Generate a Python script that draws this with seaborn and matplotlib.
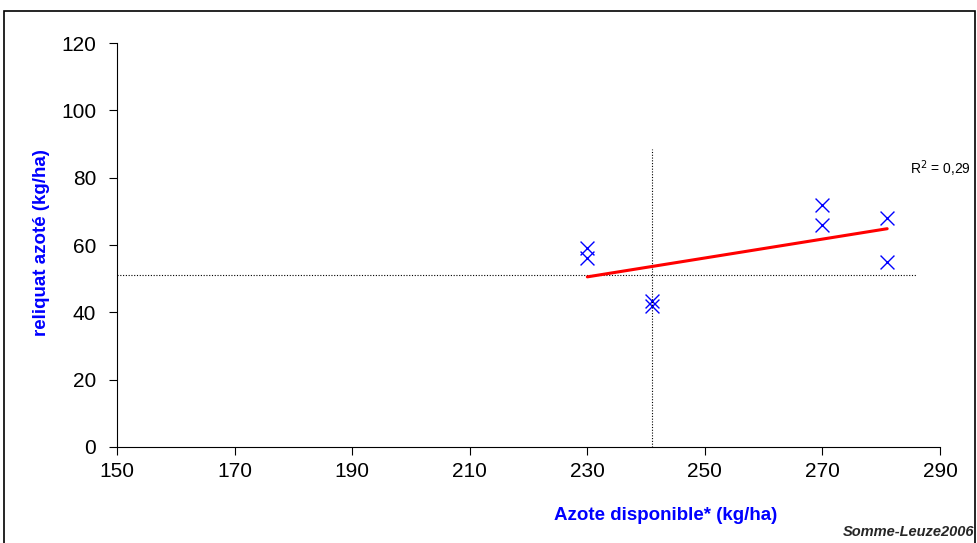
import matplotlib
matplotlib.use("Agg")
import matplotlib.pyplot as plt
import seaborn as sns
import pandas as pd
from matplotlib.patches import Rectangle

# data
azote_dispo = [230, 230, 241, 241, 270, 270, 281, 281]
reliquat = [59, 56, 42, 43.5, 72, 66, 68, 55]
x_ticks = [150, 170, 190, 210, 230, 250, 270, 290]
y_ticks = [0, 20, 40, 60, 80, 100, 120]
ref_x = 241      # vertical dotted line
ref_x_top = 88.5
ref_y = 51       # horizontal dotted line
ref_y_end = 286

df = pd.DataFrame({"azote": azote_dispo, "reliquat": reliquat})

sns.set_theme(style="white")
plt.rcParams["font.family"] = ["Liberation Sans", "DejaVu Sans"]

fig = plt.figure(figsize=(9.77, 5.43), dpi=100)
ax = fig.add_axes([0.1198, 0.1768, 0.8424, 0.744])

# reference lines
ax.plot([ref_x, ref_x], [0, ref_x_top], color="black", lw=0.8, ls=(0, (1, 1.5)))
ax.plot([150, ref_y_end], [ref_y, ref_y], color="black", lw=0.8, ls=(0, (1, 1.5)))

sns.regplot(data=df, x="azote", y="reliquat", ci=None, ax=ax,
            marker="x", scatter_kws={"color": "#0000ff", "s": 100, "linewidths": 1.0, "alpha": 1},
            line_kws={"color": "#ff0000", "lw": 2.2})

ax.set_xlim(150, 290)
ax.set_ylim(0, 120)
ax.set_xticks(x_ticks)
ax.set_yticks(y_ticks)
ax.tick_params(axis="both", labelsize=15, direction="out", length=6, width=0.8,
               left=True, bottom=True, colors="black")
ax.tick_params(axis="y", pad=9)
ax.tick_params(axis="x", pad=5)
for side in ["top", "right"]:
    ax.spines[side].set_visible(False)
for side in ["left", "bottom"]:
    ax.spines[side].set_color("black")
    ax.spines[side].set_linewidth(0.8)

ax.set_xlabel("Azote disponible* (kg/ha)", color="#0000ff", fontsize=13.5,
              fontweight="bold")
ax.xaxis.set_label_coords(0.666, -0.148)
ax.set_ylabel("reliquat azoté (kg/ha)", color="#0000ff", fontsize=13.5,
              fontweight="bold")
ax.yaxis.set_label_coords(-0.081, 0.505)

fig.text(0.931, 0.68, "R$^2$ = 0,29", fontsize=10, color="black")
fig.text(0.997, 0.008, "Somme-Leuze2006", fontsize=10.5, fontstyle="italic",
         fontweight="bold", ha="right", va="bottom")

fig.patches.append(Rectangle((0.004, -0.01), 0.994, 0.99, transform=fig.transFigure,
                             fill=False, edgecolor="black", lw=1.2))

plt.savefig("out.png", dpi=100)
